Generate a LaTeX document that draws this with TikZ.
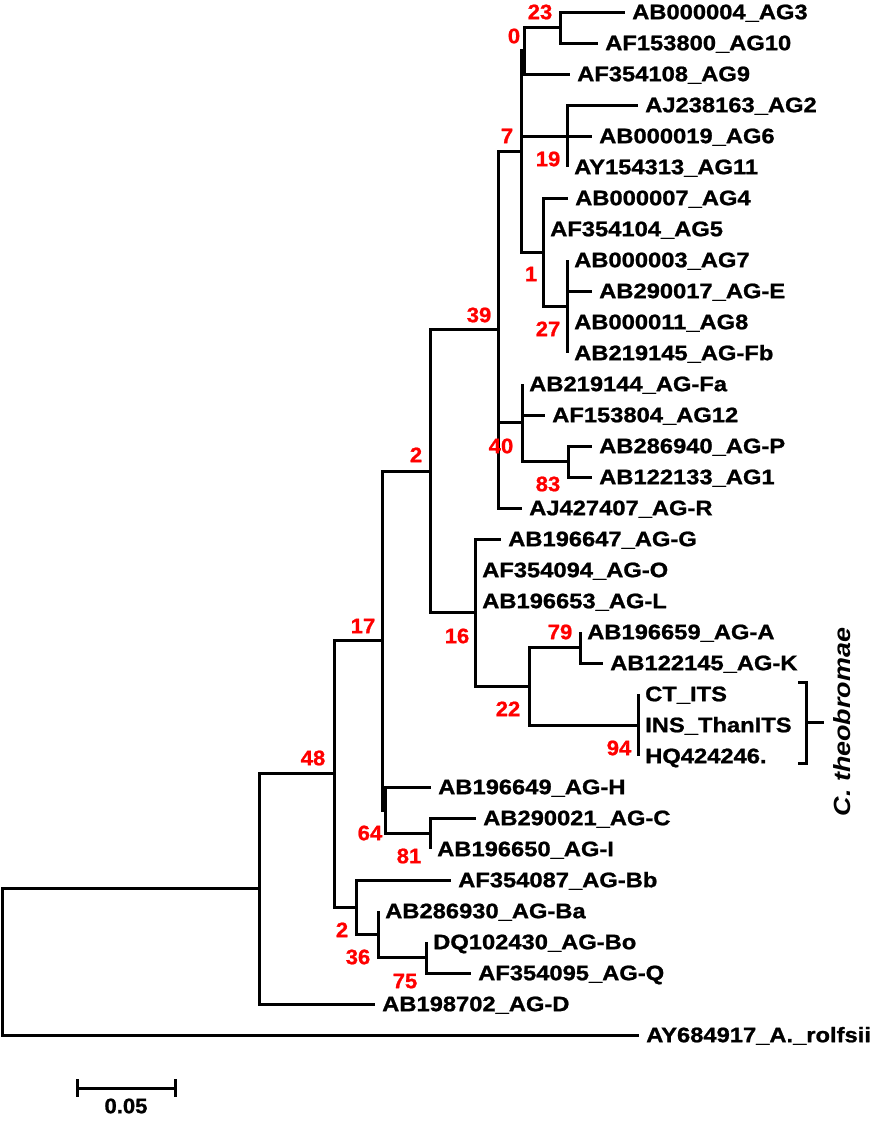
\documentclass[tikz,border=0pt]{standalone}
\usepackage{fontspec}
\setmainfont{Liberation Sans}[BoldFeatures={FakeBold=1}]
\usetikzlibrary{positioning}

\begin{document}
\begin{tikzpicture}[x=0.5pt,y=-0.5pt,
  branch/.style={line width=1.5pt},
  taxon/.style={anchor=west,inner xsep=3pt,inner ysep=0pt,text height=0.72em,text depth=0pt,
    xscale=1.13,font=\fontsize{10.5}{12}\selectfont\bfseries},
  boot/.style={text=red,inner sep=0pt,text height=0.72em,text depth=0pt,
    xscale=1.05,font=\fontsize{10.5}{12}\selectfont\bfseries}]
\useasboundingbox (0,0) rectangle (877,1124);

% internal nodes of the tree
\coordinate (n23) at (560,27.5);
\coordinate (n0) at (524,50.75);
\coordinate (n19) at (567,136);
\coordinate (n27) at (567,306.5);
\coordinate (n1) at (543,252.25);
\coordinate (n7) at (521,151.5);
\coordinate (n83) at (568,461.5);
\coordinate (n40) at (522,422.75);
\coordinate (n39) at (498,329.75);
\coordinate (n79) at (580,647.5);
\coordinate (n94) at (638,725);
\coordinate (n22) at (529,686.25);
\coordinate (n16) at (475,612.6);
\coordinate (n2u) at (430,471.2);
\coordinate (n81) at (430,833.5);
\coordinate (n64) at (385,810.25);
\coordinate (n17) at (382,640.7);
\coordinate (n75) at (426,957.5);
\coordinate (n36) at (378,934.25);
\coordinate (n2l) at (356,907.1);
\coordinate (n48) at (334,773.9);
\coordinate (nin) at (259,888.95);
\coordinate (nroot) at (2,962);

% taxa
\node[taxon] (ag3) at (625,12) {AB000004\_AG3};
\node[taxon] (ag10) at (598,43) {AF153800\_AG10};
\node[taxon] (ag9) at (570,74) {AF354108\_AG9};
\node[taxon] (ag2) at (638,105) {AJ238163\_AG2};
\node[taxon] (ag6) at (592,136) {AB000019\_AG6};
\node[taxon] (ag11) at (567,167) {AY154313\_AG11};
\node[taxon] (ag4) at (568,198) {AB000007\_AG4};
\node[taxon] (ag5) at (543,229) {AF354104\_AG5};
\node[taxon] (ag7) at (567,260) {AB000003\_AG7};
\node[taxon] (agE) at (592,291) {AB290017\_AG-E};
\node[taxon] (ag8) at (567,322) {AB000011\_AG8};
\node[taxon] (agFb) at (567,353) {AB219145\_AG-Fb};
\node[taxon] (agFa) at (522,384) {AB219144\_AG-Fa};
\node[taxon] (ag12) at (545,415) {AF153804\_AG12};
\node[taxon] (agP) at (592,446) {AB286940\_AG-P};
\node[taxon] (ag1) at (592,477) {AB122133\_AG1};
\node[taxon] (agR) at (522,508) {AJ427407\_AG-R};
\node[taxon] (agG) at (501,539) {AB196647\_AG-G};
\node[taxon] (agO) at (475,570) {AF354094\_AG-O};
\node[taxon] (agL) at (475,601) {AB196653\_AG-L};
\node[taxon] (agA) at (580,632) {AB196659\_AG-A};
\node[taxon] (agK) at (603,663) {AB122145\_AG-K};
\node[taxon] (ctits) at (638,694) {CT\_ITS};
\node[taxon] (insits) at (638,725) {INS\_ThanITS};
\node[taxon] (hq) at (638,756) {HQ424246.};
\node[taxon] (agH) at (431,787) {AB196649\_AG-H};
\node[taxon] (agC) at (476,818) {AB290021\_AG-C};
\node[taxon] (agI) at (430,849) {AB196650\_AG-I};
\node[taxon] (agBb) at (451,880) {AF354087\_AG-Bb};
\node[taxon] (agBa) at (378,911) {AB286930\_AG-Ba};
\node[taxon] (agBo) at (426,942) {DQ102430\_AG-Bo};
\node[taxon] (agQ) at (471,973) {AF354095\_AG-Q};
\node[taxon] (agD) at (375,1004) {AB198702\_AG-D};
\node[taxon] (rolf) at (639,1035) {AY684917\_A.\_rolfsii};

% branches
\draw[branch] (nroot) |- (nin) (nroot) |- (rolf.west);
\draw[branch] (nin) |- (n48) (nin) |- (agD.west);
\draw[branch] (n48) |- (n17) (n48) |- (n2l);
\draw[branch] (n2l) |- (agBb.west) (n2l) |- (n36);
\draw[branch] (n36) |- (agBa.west) (n36) |- (n75);
\draw[branch] (n75) |- (agBo.west) (n75) |- (agQ.west);
\draw[branch] (n17) |- (n2u) (n17) |- (n64);
\draw[branch] (n64) |- (agH.west) (n64) |- (n81);
\draw[branch] (n81) |- (agC.west) (n81) |- (agI.west);
\draw[branch] (n2u) |- (n39) (n2u) |- (n16);
\draw[branch] (n16) |- (agG.west) (n16) |- (agO.west) (n16) |- (agL.west) (n16) |- (n22);
\draw[branch] (n22) |- (n79) (n22) |- (n94);
\draw[branch] (n79) |- (agA.west) (n79) |- (agK.west);
\draw[branch] (n94) |- (ctits.west) (n94) |- (insits.west) (n94) |- (hq.west);
\draw[branch] (n39) |- (n7) (n39) |- (n40) (n39) |- (agR.west);
\draw[branch] (n40) |- (agFa.west) (n40) |- (ag12.west) (n40) |- (n83);
\draw[branch] (n83) |- (agP.west) (n83) |- (ag1.west);
\draw[branch] (n7) |- (n0) (n7) |- (n19) (n7) |- (n1);
\draw[branch] (n0) |- (n23) (n0) |- (ag9.west);
\draw[branch] (n23) |- (ag3.west) (n23) |- (ag10.west);
\draw[branch] (n19) |- (ag2.west) (n19) |- (ag6.west) (n19) |- (ag11.west);
\draw[branch] (n1) |- (ag4.west) (n1) |- (ag5.west) (n1) |- (n27);
\draw[branch] (n27) |- (ag7.west) (n27) |- (agE.west) (n27) |- (ag8.west) (n27) |- (agFb.west);

% bootstrap values
\node[boot] (b23) at (540,12) {23};
\node[boot] (b0) at (514,36) {0};
\node[boot] (b7) at (507,136) {7};
\node[boot] (b19) at (548,159) {19};
\node[boot] (b1) at (531,274) {1};
\node[boot] (b27) at (548,329) {27};
\node[boot] (b39) at (479,315) {39};
\node[boot] (b40) at (501,446) {40};
\node[boot] (b83) at (548,484) {83};
\node[boot] (b2u) at (416,455) {2};
\node[boot] (b16) at (457,636) {16};
\node[boot] (b17) at (363,626) {17};
\node[boot] (b79) at (560,632) {79};
\node[boot] (b22) at (508,709) {22};
\node[boot] (b94) at (619,748) {94};
\node[boot] (b48) at (313,758) {48};
\node[boot] (b64) at (370,833) {64};
\node[boot] (b81) at (409,856) {81};
\node[boot] (b2l) at (342,930) {2};
\node[boot] (b36) at (358,957) {36};
\node[boot] (b75) at (405,981) {75};

% clade bracket
\coordinate (brtop) at (798,682);
\coordinate (brbot) at (798,763);
\coordinate (brtip) at (824,722.5);
\draw[branch] (brtop) -- ++(8,0) |- (brbot);
\draw[branch] (806,722.5) -- (brtip);
\node[rotate=90,inner sep=0pt,text height=0.73em,text depth=0pt,
  font=\fontsize{11.7}{13}\selectfont\bfseries\itshape] (clade) at (843.5,722)
  {\scalebox{1.15}[1]{C. theobromae}};

% scale bar
\coordinate (sbl) at (77,1088);
\coordinate (sbr) at (175,1088);
\draw[branch] (sbl) -- (sbr);
\draw[branch] (77,1079) -- (77,1097) (175,1079) -- (175,1097);
\node[boot,text=black] (sblab) at (126,1106) {0.05};
\end{tikzpicture}
\end{document}
